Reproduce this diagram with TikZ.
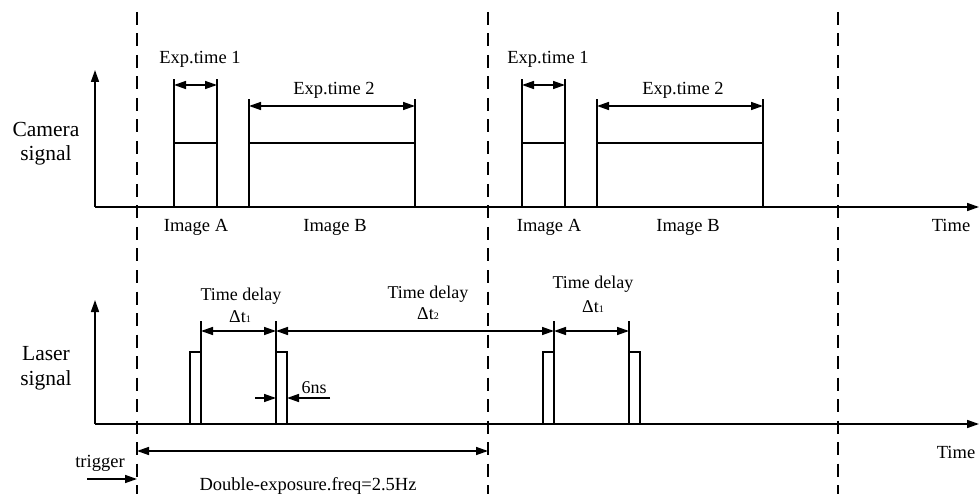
\documentclass[tikz,border=0pt]{standalone}
\usepackage{fontspec}
\setmainfont{Liberation Serif}
\usetikzlibrary{arrows.meta}
\begin{document}
\begin{tikzpicture}[x=1pt,y=-1pt,
  ln/.style={line width=1.6pt},
  dsh/.style={line width=1.8pt,dash pattern=on 13pt off 8.5pt},
  dim/.style={line width=1.5pt,{Triangle[length=12pt,width=8pt]}-{Triangle[length=12pt,width=8pt]}},
  arr/.style={line width=1.5pt,-{Triangle[length=12pt,width=8pt]}},
  lbl/.style={inner sep=0pt,anchor=base,font=\fontsize{18.5}{20}\selectfont},
  side/.style={inner sep=0pt,anchor=base,font=\fontsize{21.5}{23}\selectfont}]
\useasboundingbox (0,0) rectangle (979,494);
% dashed period lines
\foreach \x/\n in {137/d1,488/d2,838/d3}{
  \coordinate (\n t) at (\x,12);
  \coordinate (\n b) at (\x,494);
  \draw[dsh] (\n t) -- (\n b);
}
% camera axes
\coordinate (co) at (95,207);
\coordinate (cy) at (95,70);
\coordinate (cx) at (979,207);
\draw[arr,line width=1.6pt] (co) -- (cy);
\draw[arr,line width=1.6pt] (co) -- (cx);
% camera pulses
\foreach \a/\b/\c/\d/\n in {174/217/249/415/p,522/565/597/763/q}{
  \coordinate (\n A1) at (\a,207); \coordinate (\n A1t) at (\a,79);
  \coordinate (\n A2) at (\b,207); \coordinate (\n A2t) at (\b,79);
  \coordinate (\n B1) at (\c,207); \coordinate (\n B1t) at (\c,99);
  \coordinate (\n B2) at (\d,207); \coordinate (\n B2t) at (\d,99);
  \draw[ln] (\n A1) -- (\n A1t) (\n A2) -- (\n A2t);
  \draw[ln] (\n B1) -- (\n B1t) (\n B2) -- (\n B2t);
  \draw[ln] (\a,143) -- (\b,143);
  \draw[ln] (\c,143) -- (\d,143);
  \draw[dim] (\a,85) -- (\b,85);
  \draw[dim] (\c,106) -- (\d,106);
}
\node[lbl] (e1a) at (200,64) {Exp.time 1};
\node[lbl] (e2a) at (334,95) {Exp.time 2};
\node[lbl] (e1b) at (548,64) {Exp.time 1};
\node[lbl] (e2b) at (683,95) {Exp.time 2};
\node[lbl] (ia) at (196,232) {Image A};
\node[lbl] (ib) at (335,232) {Image B};
\node[lbl] (ia2) at (549,232) {Image A};
\node[lbl] (ib2) at (688,232) {Image B};
\node[lbl] (tc) at (951,232) {Time};
\node[side] (cam) at (46,137) {Camera};
\node[side] (cam2) at (46,161) {signal};
% laser axes
\coordinate (lo) at (95,424);
\coordinate (ly) at (95,300);
\coordinate (lx) at (979,424);
\draw[arr,line width=1.6pt] (lo) -- (ly);
\draw[arr,line width=1.6pt] (lo) -- (lx);
% laser pulses
\coordinate (L1) at (201,321);
\coordinate (L2) at (276,321);
\coordinate (L3) at (554,321);
\coordinate (L4) at (629,321);
\draw[ln] (190,424) -- (190,352) -- (201,352);
\draw[ln] (201,424) -- (L1);
\draw[ln] (276,424) -- (L2);
\draw[ln] (276,352) -- (287,352) -- (287,424);
\draw[ln] (543,424) -- (543,352) -- (554,352);
\draw[ln] (554,424) -- (L3);
\draw[ln] (629,424) -- (L4);
\draw[ln] (629,352) -- (640,352) -- (640,424);
\draw[dim] (201,331) -- (276,331);
\draw[dim] (276,331) -- (554,331);
\draw[dim] (554,331) -- (629,331);
\node[lbl,font=\fontsize{18}{20}\selectfont] (td1) at (241,300) {Time delay};
\node[lbl,font=\fontsize{18}{20}\selectfont] (dt1) at (240,322) {Δt{\fontsize{10}{10}\selectfont 1}};
\node[lbl,font=\fontsize{18}{20}\selectfont] (td2) at (428,298) {Time delay};
\node[lbl,font=\fontsize{18}{20}\selectfont] (dt2) at (428,319) {Δt{\fontsize{10}{10}\selectfont 2}};
\node[lbl,font=\fontsize{18}{20}\selectfont] (td3) at (593,288) {Time delay};
\node[lbl,font=\fontsize{18}{20}\selectfont] (dt3) at (593,312) {Δt{\fontsize{10}{10}\selectfont 1}};
% 6ns
\coordinate (n1) at (255,398); \coordinate (n1e) at (276,398);
\coordinate (n2) at (330,398); \coordinate (n2e) at (287,398);
\draw[arr] (n1) -- (n1e);
\draw[arr] (n2) -- (n2e);
\node[lbl,font=\fontsize{18}{20}\selectfont] (ns) at (314,393) {6ns};
\node[lbl] (tl) at (956,458) {Time};
\node[side] (las) at (46,360) {Laser};
\node[side] (las2) at (46,385) {signal};
% double exposure
\coordinate (de1) at (137,451);
\coordinate (de2) at (488,451);
\draw[dim] (de1) -- (de2);
\node[lbl] (de) at (308,490) {Double-exposure.freq=2.5Hz};
\coordinate (tr1) at (87,479);
\coordinate (tr2) at (137,479);
\draw[arr] (tr1) -- (tr2);
\node[lbl] (trg) at (100,467) {trigger};
\end{tikzpicture}
\end{document}
